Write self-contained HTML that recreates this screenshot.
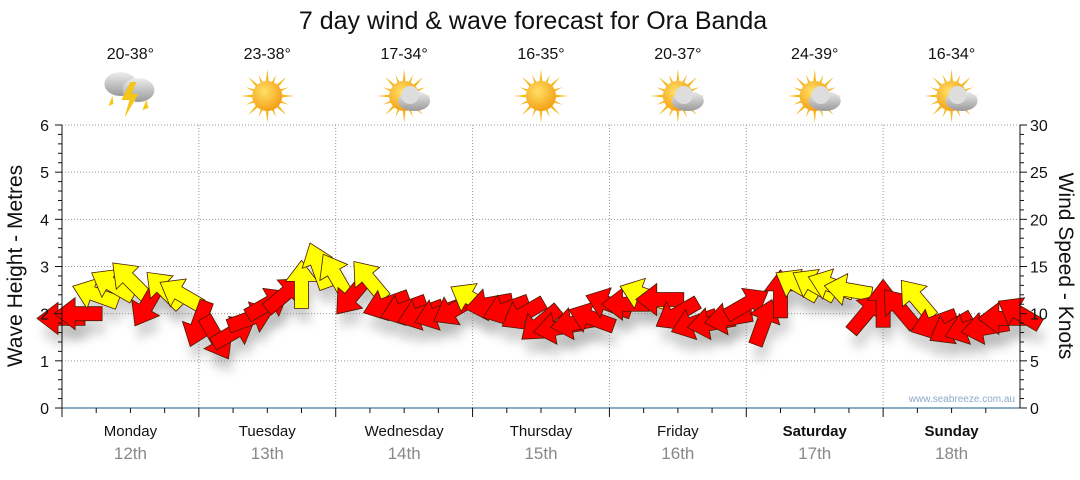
<!DOCTYPE html>
<html><head><meta charset="utf-8"><style>
body{margin:0;background:#fff;font-family:"Liberation Sans",sans-serif}
svg text{font-family:"Liberation Sans","DejaVu Sans",sans-serif}
</style></head><body>
<svg id="c" width="1080" height="475" viewBox="0 0 1080 475" xmlns="http://www.w3.org/2000/svg">
<defs>
<filter id="sh" x="-50%" y="-50%" width="200%" height="200%"><feGaussianBlur stdDeviation="5"/></filter>
<radialGradient id="sun" cx="0.4" cy="0.35" r="0.7"><stop offset="0" stop-color="#ffe066"/><stop offset="1" stop-color="#f39c12"/></radialGradient>
<linearGradient id="cloud" x1="0" y1="0" x2="0" y2="1"><stop offset="0" stop-color="#eee"/><stop offset="1" stop-color="#999"/></linearGradient>
</defs>
<text x="533" y="29" font-size="25" text-anchor="middle" fill="#111">7 day wind &amp; wave forecast for Ora Banda</text>
<g id="grid"></g><g id="icons"></g><g id="shadows"></g><g id="arrows"></g><g id="axes"></g>
<text transform="translate(22,266) rotate(-90)" font-size="21" text-anchor="middle" fill="#111">Wave Height - Metres</text>
<text transform="translate(1059,266) rotate(90)" font-size="21" text-anchor="middle" fill="#111">Wind Speed - Knots</text>
<text x="1015" y="402" font-size="10" text-anchor="end" fill="#8aaac8">www.seabreeze.com.au</text>
</svg>
<script>
const days=["Monday","Tuesday","Wednesday","Thursday","Friday","Saturday","Sunday"];
const dates=["12th","13th","14th","15th","16th","17th","18th"];
const temps=["20-38°","23-38°","17-34°","16-35°","20-37°","24-39°","16-34°"];
const icons=["storm","sun","partly","sun","partly","partly","partly"];
const waveTicks=[0,1,2,3,4,5,6];
const windTicks=[0,5,10,15,20,25,30];
// wind per 3 hours
const windSpeed=[9.5,10,12,13,13.5,11,12.5,12,
 9,7.5,8,9.5,11,12,13,15,
 14,12,13.5,11,10.5,10,10,10.5,
 11.5,11,10.5,10,9,8.5,9,9.5,
 11,11,12,11.5,10,9,9,9.5,
 11,9,12,13,13,13,12.5,10,
 11,10.5,11.5,9,8.5,8.5,8.5,9.5,10];
const windDir=[270,270,290,300,315,210,315,300,
 200,150,60,70,60,50,0,340,
 330,220,320,250,250,250,250,240,
 300,260,250,240,230,260,260,290,
 290,270,290,270,240,250,260,260,
 60,20,0,300,300,290,280,40,
 0,320,320,250,240,250,260,270,300];
const windCol=["r","r","y","y","y","r","y","y",
 "r","r","r","r","r","r","y","y",
 "y","r","y","r","r","r","r","r",
 "y","r","r","r","r","r","r","r",
 "r","r","y","r","r","r","r","r",
 "r","r","r","y","y","y","y","r",
 "r","r","y","r","r","r","r","r","r"];
const X0=62,X1=1020,Y0=408,Ytop=125;
const xs=h=>X0+(X1-X0)*h/(7*24);
const yw=m=>Y0-(Y0-Ytop)*m/6;
const yk=k=>Y0-(Y0-Ytop)*k/30;
const NS="http://www.w3.org/2000/svg";
function mk(p,t,a){const e=document.createElementNS(NS,t);for(const k in a)e.setAttribute(k,a[k]);p.appendChild(e);return e;}
const G=document.getElementById('grid'),A=document.getElementById('axes'),I=document.getElementById('icons'),S=document.getElementById('shadows'),W=document.getElementById('arrows');
waveTicks.forEach(m=>{if(m>0){const l=mk(G,'line',{x1:X0,x2:X1,y1:yw(m),y2:yw(m),stroke:'#999','stroke-dasharray':'1,2'});

}
const t=mk(A,'text',{x:49,y:yw(m)+6,'font-size':16,'text-anchor':'end',fill:'#111'});t.textContent=m;

});
windTicks.forEach(k=>{const t=mk(A,'text',{x:1030,y:yk(k)+6,'font-size':16,fill:'#111'});t.textContent=k;

});
for(let i=0;i<=30;i++){const y=Y0-(Y0-Ytop)*i/30;mk(A,'line',{x1:i%5==0?55:58,x2:X0,y1:y,y2:y,stroke:'#111'});mk(A,'line',{x1:X1,x2:i%5==0?1027:1024,y1:y,y2:y,stroke:'#111'});}
mk(A,'line',{x1:X0,x2:X0,y1:Ytop,y2:Y0,stroke:'#111'});
mk(A,'line',{x1:X1,x2:X1,y1:Ytop,y2:Y0,stroke:'#111'});
mk(A,'line',{x1:X0,x2:X1,y1:Y0,y2:Y0,stroke:'#1a5a8a'});
for(let d=0;d<7;d++){
 if(d>0){const l=mk(G,'line',{x1:xs(d*24),x2:xs(d*24),y1:Ytop,y2:Y0,stroke:'#999','stroke-dasharray':'1,2'});
 
 }
 for(let q=0;q<4;q++){const x=xs(d*24+q*6);mk(A,'line',{x1:x,x2:x,y1:Y0,y2:Y0+(q==0?9:5),stroke:'#111'});}
 const cx=xs(d*24+12);
 const dn=mk(A,'text',{x:cx,y:436,'font-size':15,'text-anchor':'middle',fill:'#111','font-weight':d>=5?'bold':'normal'});dn.textContent=days[d];
 
 
 const dt=mk(A,'text',{x:cx,y:459,'font-size':17,'text-anchor':'middle',fill:'#888'});dt.textContent=dates[d];
 
 
 const tp=mk(I,'text',{x:cx,y:59,'font-size':16,'text-anchor':'middle',fill:'#111'});tp.textContent=temps[d];
 
 
 const g=mk(I,'g',{transform:`translate(${cx},${96})`});
 
 
 const ic=icons[d];
 if(ic!="storm"){for(let r=0;r<16;r++){const a=r*22.5;mk(g,'polygon',{points:'-3,0 3,0 0,'+(r%2?-23:-27),fill:'#f5b81f',transform:`rotate(${a})`});}
  mk(g,'circle',{r:15,fill:'url(#sun)'});}
 if(ic=="partly"){mk(g,'ellipse',{cx:10,cy:5,rx:16,ry:10,fill:'url(#cloud)'});mk(g,'circle',{cx:6,cy:-1,r:9,fill:'#ddd'});}
 if(ic=="storm"){mk(g,'ellipse',{cx:-10,cy:-12,rx:16,ry:12,fill:'url(#cloud)'});mk(g,'ellipse',{cx:8,cy:-6,rx:16,ry:12,fill:'url(#cloud)'});
  mk(g,'polygon',{points:'0,-14 -9,4 -1,4 -6,22 8,-2 1,-2 6,-14',fill:'#f5c518'});
  mk(g,'polygon',{points:'-18,0 -22,10 -17,8',fill:'#f5c518'});mk(g,'polygon',{points:'16,4 12,14 18,12',fill:'#f5c518'});}
}
windSpeed.forEach((k,i)=>{
 const x=xs(i*3),y=yk(k),a=windDir[i];
 const pts='0,-25 -16,-4 -7,-4 -7,23 7,23 7,-4 16,-4';
 mk(S,'polygon',{points:pts,fill:'#888',opacity:0.35,filter:'url(#sh)',transform:`translate(${x+3},${y+14}) rotate(${a})`});
 const p=mk(W,'polygon',{points:pts,fill:windCol[i]=="y"?'#ffff00':'#ff0000',stroke:'#4a1a00','stroke-width':0.8,transform:`translate(${x},${y}) rotate(${a})`});
 
 
});
</script>
</body></html>
